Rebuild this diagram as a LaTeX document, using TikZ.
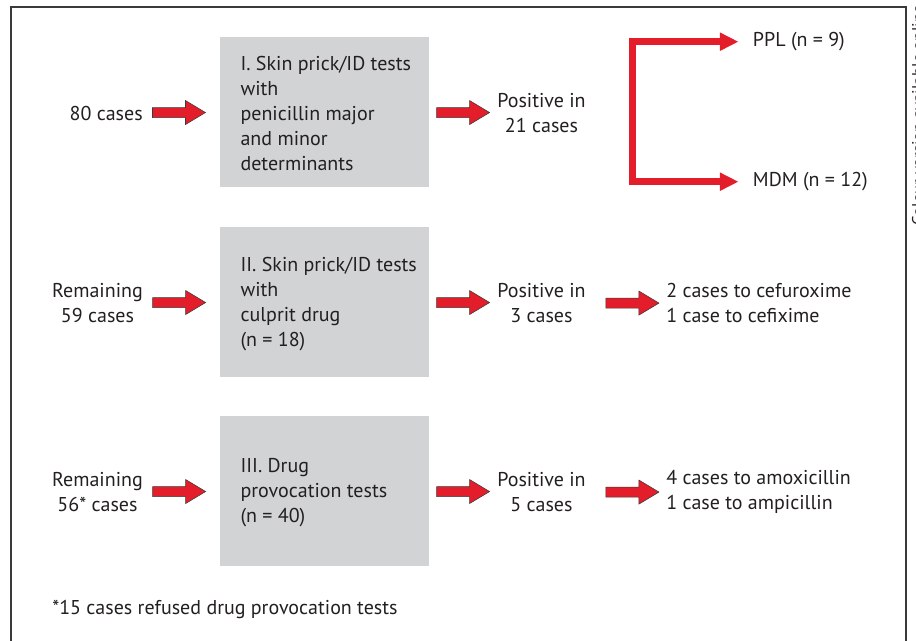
\documentclass[tikz,border=0pt]{standalone}
\usepackage{fontspec}
\setmainfont{PT Sans}
\usetikzlibrary{calc,arrows.meta}
\definecolor{txt}{HTML}{231F20}
\definecolor{boxgray}{HTML}{D1D3D4}
\definecolor{arrred}{HTML}{E31E2A}
\definecolor{framecol}{HTML}{3A3A3A}
\begin{document}
\begin{tikzpicture}[x=0.75pt,y=-0.75pt,
  every node/.style={text=txt, font=\fontsize{15}{18.75}\selectfont, inner sep=0pt},
  box/.style={fill=boxgray, minimum width=156.75pt, minimum height=112.5pt},
  boxtxt/.style={anchor=west, align=left, yshift=-1.2pt},
  lefttxt/.style={align=center, minimum width=68.25pt, yshift=-0.8pt},
  postxt/.style={align=center, minimum width=65.25pt, yshift=-0.8pt},
  restxt/.style={align=left, anchor=west},
  blockarrow/.pic={\draw[fill=arrred, draw=framecol, line width=0.4pt]
     (-26.5,-5) -- (6.5,-5) -- (6.5,-12) -- (26.5,0) -- (6.5,12) -- (6.5,5) -- (-26.5,5) -- cycle;},
  bracket/.style={draw=arrred, line width=5pt, -{Triangle[length=13.9pt,width=12.75pt]}, shorten >=10.65pt}
]
\useasboundingbox (0,0) rectangle (916,641);
\draw[draw=framecol, line width=1pt] (11,7) rectangle (906,660);

% boxes
\node[box] (b1) at (324.35,112) {};
\node[box] (b2) at (324.35,302) {};
\node[box] (b3) at (324.35,491) {};
\node[boxtxt] (t1) at ($(b1.west)+(20.7,0)$) {I. Skin prick/ID tests\\with\\penicillin major\\and minor\\determinants};
\node[boxtxt] (t2) at ($(b2.west)+(20.7,0)$) {II. Skin prick/ID tests\\with\\culprit drug\\(n = 18)};
\node[boxtxt] (t3) at ($(b3.west)+(20.7,0)$) {III. Drug\\provocation tests\\(n = 40)};

% left texts
\node[anchor=east, yshift=-0.8pt] (l1) at (143,112) {80 cases};
\node[lefttxt] (l2) at (97.5,302) {Remaining\\59 cases};
\node[lefttxt] (l3) at (97.5,491) {Remaining\\56* cases};

% positive texts
\node[postxt] (p1) at (541.5,112) {Positive in\\21 cases};
\node[postxt] (p2) at (541.5,302) {Positive in\\3 cases};
\node[postxt] (p3) at (541.5,491) {Positive in\\5 cases};

% results
\node[restxt, yshift=-0.8pt] (r2) at (666,302) {2 cases to cefuroxime\\1 case to cefixime};
\node[restxt, yshift=-0.8pt] (r3) at (666,491) {4 cases to amoxicillin\\1 case to ampicillin};
\node[restxt] (ppl) at (752.7,41.7) {PPL (n = 9)};
\node[restxt] (mdm) at (752.7,181.7) {MDM (n = 12)};

% footnote
\node[restxt, yshift=-0.8pt] (foot) at (52,608) {*15 cases refused drug provocation tests};

% block arrows
\pic at ($(l1.east)!0.5!(b1.west)+(-2.3,0)$) {blockarrow};
\pic at ($(l2.east)!0.5!(b2.west)+(-2.3,0)$) {blockarrow};
\pic at ($(l3.east)!0.5!(b3.west)+(-2.3,0)$) {blockarrow};
\pic at ($(b1.east)!0.5!(p1.west)$) {blockarrow};
\pic at ($(b2.east)!0.5!(p2.west)$) {blockarrow};
\pic at ($(b3.east)!0.5!(p3.west)$) {blockarrow};
\pic at ($(p2.east)!0.5!(r2.west)+(6.5,0)$) {blockarrow};
\pic at ($(p3.east)!0.5!(r3.west)+(6.5,0)$) {blockarrow};

% bracket
\coordinate (bk) at (632.7,112);
\draw[bracket] (bk) |- (ppl.west);
\draw[bracket] (bk) |- (mdm.west);

% side note (cut by the right edge, as in the reference)
\node[rotate=90, anchor=north west, font=\fontsize{12.5}{15}\selectfont] (cv) at (911.7,226) {Colour version available online};
\end{tikzpicture}
\end{document}
